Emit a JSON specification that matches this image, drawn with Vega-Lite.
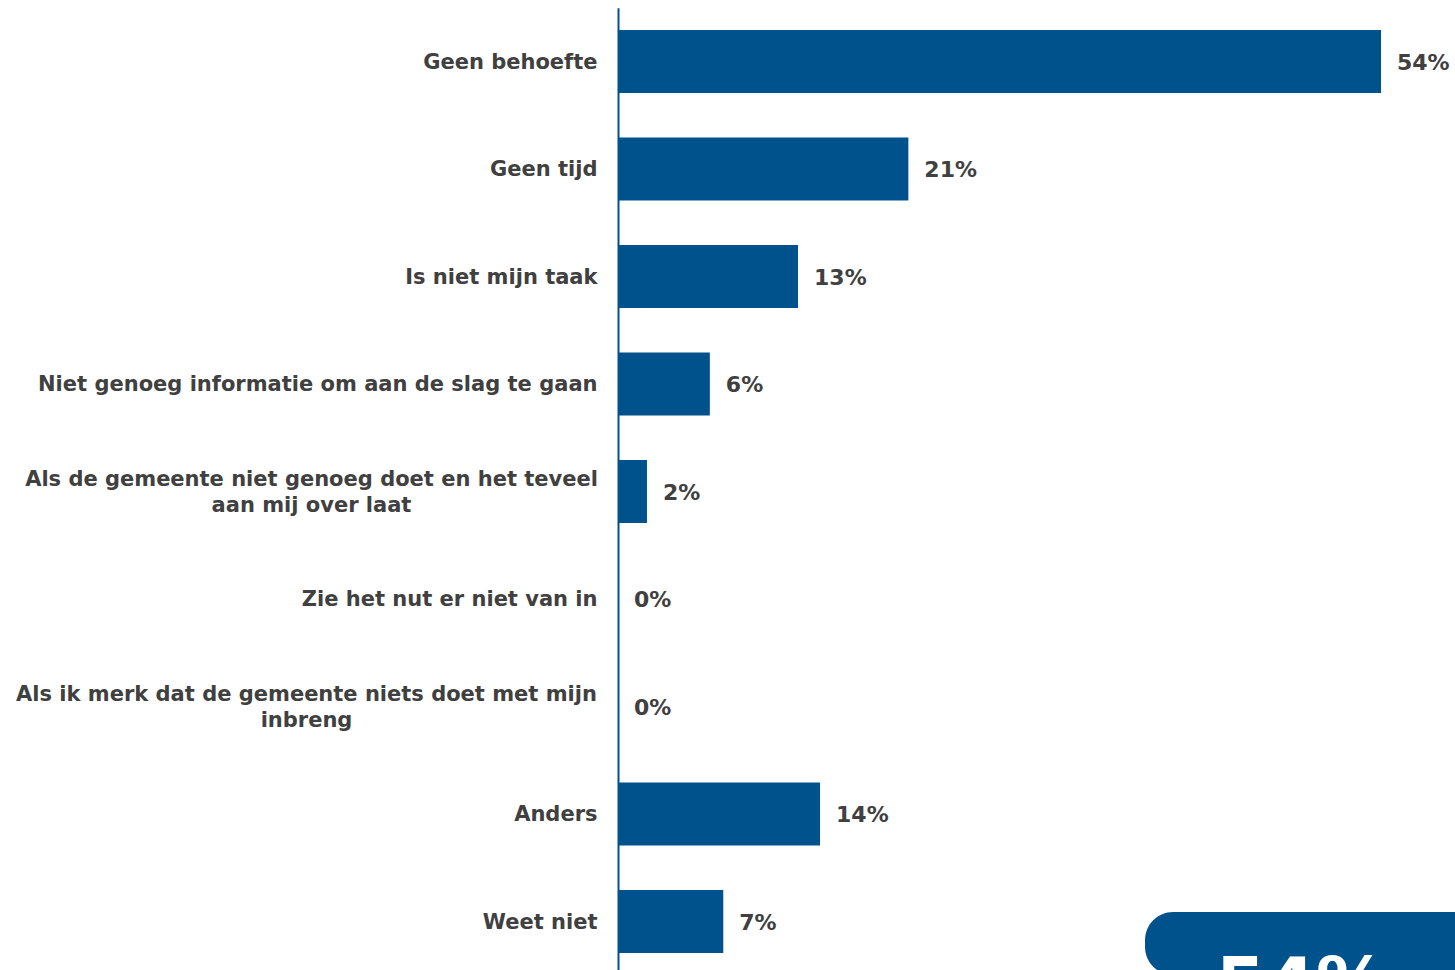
{
  "$schema": "https://vega.github.io/schema/vega-lite/v6.json",
  "autosize": {"type": "none"},
  "padding": {"left": 618, "top": 7.75, "right": 74, "bottom": 0},
  "width": 763,
  "height": 967.5,
  "background": "white",
  "config": {"view": {"stroke": null}, "font": "DejaVu Sans"},
  "datasets": {
    "callout": [{"reden": "Weet niet", "callout": "54%"}]
  },
  "data": {
    "values": [
      {"reden": "Geen behoefte", "pct": 54.0, "label": "54%"},
      {"reden": "Geen tijd", "pct": 20.55, "label": "21%"},
      {"reden": "Is niet mijn taak", "pct": 12.74, "label": "13%"},
      {"reden": "Niet genoeg informatie om aan de slag te gaan", "pct": 6.5, "label": "6%"},
      {"reden": "Als de gemeente niet genoeg doet en het teveel\naan mij over laat", "pct": 2.05, "label": "2%"},
      {"reden": "Zie het nut er niet van in", "pct": 0, "label": "0%"},
      {"reden": "Als ik merk dat de gemeente niets doet met mijn\ninbreng", "pct": 0, "label": "0%"},
      {"reden": "Anders", "pct": 14.3, "label": "14%"},
      {"reden": "Weet niet", "pct": 7.45, "label": "7%"}
    ]
  },
  "layer": [
    {
      "mark": {"type": "bar", "color": "#00528C"},
      "encoding": {
        "y": {
          "field": "reden",
          "type": "nominal",
          "sort": null,
          "scale": {"paddingInner": 0.414, "paddingOuter": 0.207},
          "axis": {
            "title": null,
            "ticks": false,
            "domainColor": "#00528C",
            "domainWidth": 2,
            "labelFont": "DejaVu Sans",
            "labelFontWeight": "bold",
            "labelFontSize": 21,
            "labelColor": "#404040",
            "labelLimit": 0,
            "labelLineHeight": 26,
            "labelExpr": "split(datum.value, '\\n')",
            "labelAlign": {"condition": {"test": "indexof(datum.value, '\\n') >= 0", "value": "center"}, "value": "right"},
            "labelOffset": {"condition": {"test": "indexof(datum.value, '\\n') >= 0", "value": -12}, "value": 1},
            "labelPadding": {"condition": [
              {"test": "indexof(datum.value, 'teveel') >= 0", "value": 307},
              {"test": "indexof(datum.value, 'inbreng') >= 0", "value": 312}
            ], "value": 21}
          }
        },
        "x": {"field": "pct", "type": "quantitative", "scale": {"domain": [0, 54], "nice": false, "zero": true}, "axis": null}
      }
    },
    {
      "mark": {"type": "text", "align": "left", "baseline": "middle", "dx": 16, "dy": 1, "font": "DejaVu Sans", "fontWeight": "bold", "fontSize": 22, "color": "#404040"},
      "encoding": {
        "y": {"field": "reden", "type": "nominal", "sort": null},
        "x": {"field": "pct", "type": "quantitative"},
        "text": {"field": "label"}
      }
    },
    {
      "data": {"name": "callout"},
      "mark": {"type": "rect", "color": "#00528C", "cornerRadius": 28, "yOffset": 22, "y2Offset": 60},
      "encoding": {
        "x": {"datum": 37.3, "type": "quantitative"},
        "x2": {"datum": 62},
        "y": {"field": "reden", "type": "nominal", "sort": null}
      }
    },
    {
      "data": {"name": "callout"},
      "mark": {"type": "text", "align": "center", "baseline": "alphabetic", "yOffset": 86, "font": "DejaVu Sans", "fontWeight": "bold", "fontSize": 72, "color": "white"},
      "encoding": {
        "x": {"datum": 48.4, "type": "quantitative"},
        "y": {"field": "reden", "type": "nominal", "sort": null},
        "text": {"field": "callout"}
      }
    }
  ]
}
